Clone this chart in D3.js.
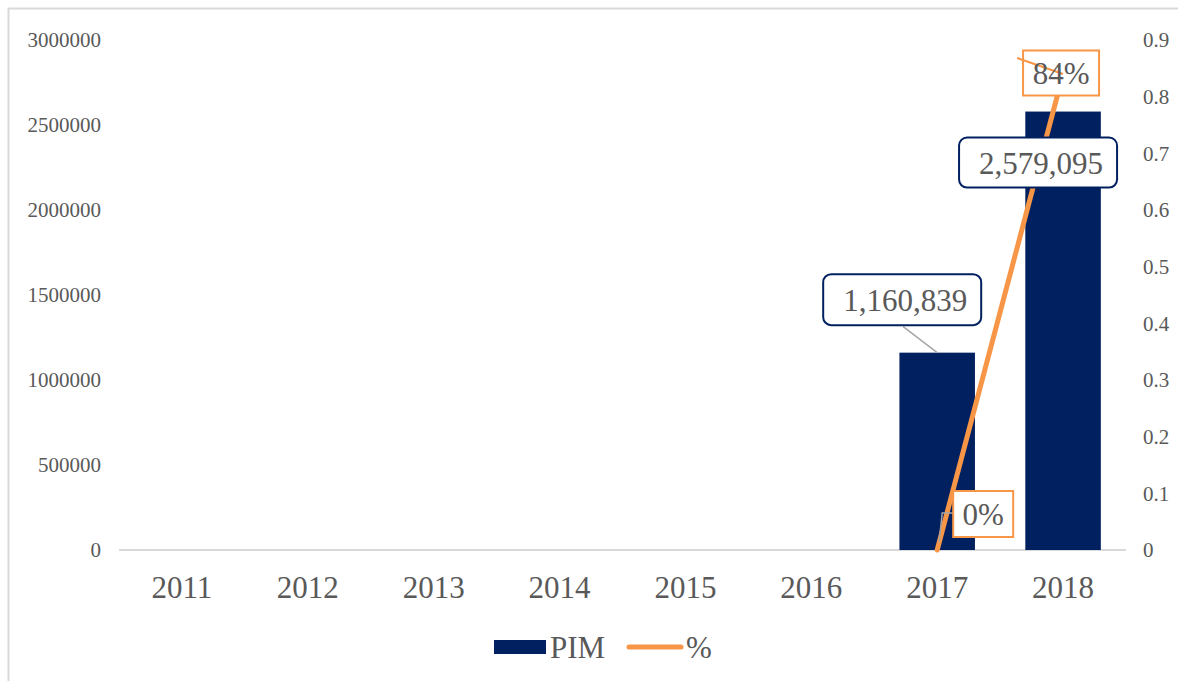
<!DOCTYPE html>
<html>
<head>
<meta charset="utf-8">
<script src="https://cdn.jsdelivr.net/npm/d3@7"></script>
<style>
  body { margin: 0; background: #fff; }
  svg { display: block; font-family: 'Liberation Serif', 'Times New Roman', serif; }
</style>
</head>
<body>
<svg></svg>
<script>
// data
let years = ['2011','2012','2013','2014','2015','2016','2017','2018']
let pim = [null, null, null, null, null, null, 1160839, 2579095]
let pct = [null, null, null, null, null, null, 0, 0.84]
let leftTicks = [0, 500000, 1000000, 1500000, 2000000, 2500000, 3000000]
let rightTicks = [0, 0.1, 0.2, 0.3, 0.4, 0.5, 0.6, 0.7, 0.8, 0.9]

let width = 1178,
    height = 681,
    navy = '#002060',
    orange = '#F79646',
    grey = '#595959'

let svg = d3.select('svg').attr('width', width).attr('height', height)

// chart border
svg.append('rect').attr('x', 8.5).attr('y', 8.5)
  .attr('width', width + 20).attr('height', height + 20)
  .attr('fill', 'none').attr('stroke', '#d9d9d9').attr('stroke-width', 2)

let x = d3.scaleBand().domain(years).range([119, 1126]).paddingInner(0.4).paddingOuter(0.2)
let yL = d3.scaleLinear().domain([0, 3000000]).range([550, 40])
let yR = d3.scaleLinear().domain([0, 0.9]).range([550, 40])
let cx = d => x(d) + x.bandwidth() / 2

// left axis
let la = svg.append('g').attr('transform', 'translate(101,0)')
  .call(d3.axisLeft(yL).tickValues(leftTicks).tickSize(0).tickPadding(0).tickFormat(d3.format('d')))
la.select('.domain').remove()
la.selectAll('text').attr('fill', grey).attr('font-size', 21).attr('font-family', 'Liberation Serif')

// right axis
let ra = svg.append('g').attr('transform', 'translate(1143,0)')
  .call(d3.axisRight(yR).tickValues(rightTicks).tickSize(0).tickPadding(0).tickFormat(d => d === 0 ? '0' : d3.format('.1f')(d)))
ra.select('.domain').remove()
ra.selectAll('text').attr('fill', grey).attr('font-size', 21).attr('font-family', 'Liberation Serif')

// category axis
svg.append('line').attr('x1', 119).attr('x2', 1126).attr('y1', 550).attr('y2', 550)
  .attr('stroke', '#d9d9d9').attr('stroke-width', 2)
let xa = svg.append('g').attr('transform', 'translate(0,550)')
  .call(d3.axisBottom(x).tickSize(0).tickPadding(0))
xa.select('.domain').remove()
xa.selectAll('text').attr('fill', grey).attr('font-size', 31).attr('font-family', 'Liberation Serif')
  .attr('dy', null).attr('y', 48)

// bars
let barData = years.map((y, i) => ({year: y, v: pim[i]})).filter(d => d.v != null)
svg.selectAll('.bar').data(barData).enter().append('rect')
  .attr('class', 'bar')
  .attr('x', d => x(d.year)).attr('width', x.bandwidth())
  .attr('y', d => yL(d.v)).attr('height', d => yL(0) - yL(d.v))
  .attr('fill', navy)

// line
let lineData = years.map((y, i) => ({year: y, v: pct[i]})).filter(d => d.v != null)
let line = d3.line().x(d => cx(d.year)).y(d => yR(d.v))
svg.append('path').datum(lineData).attr('d', line)
  .attr('fill', 'none').attr('stroke', orange).attr('stroke-width', 5).attr('stroke-linecap', 'round')

// data labels for bars
let fmt = d3.format(',')
let barLabels = [
  {dx: -35, dy: -53, w: 158, h: 51, lead: [[-34, -26], [0, 0]]},
  {dx: -25, dy: 51, w: 158, h: 50, lead: null}
]
barData.forEach((d, i) => {
  let o = barLabels[i], px = cx(d.year), py = yL(d.v)
  let bx = px + o.dx, by = py + o.dy
  if (o.lead) {
    svg.append('line').attr('x1', px + o.lead[0][0]).attr('y1', py + o.lead[0][1])
      .attr('x2', px).attr('y2', py).attr('stroke', '#a6a6a6').attr('stroke-width', 1.5)
  }
  svg.append('rect').attr('x', bx - o.w / 2).attr('y', by - o.h / 2)
    .attr('width', o.w).attr('height', o.h).attr('rx', 8)
    .attr('fill', '#fff').attr('stroke', navy).attr('stroke-width', 2)
  svg.append('text').attr('x', bx + 3).attr('y', by + 11)
    .attr('text-anchor', 'middle').attr('font-size', 31).attr('fill', grey)
    .text(fmt(d.v))
})

// data labels for line
let pctLabels = [
  {dx: 46, dy: -36, w: 60, h: 46},
  {dx: -2, dy: -1, w: 76, h: 45}
]
lineData.forEach((d, i) => {
  let o = pctLabels[i], px = cx(d.year), py = yR(d.v)
  let bx = px + o.dx, by = py + o.dy
  if (i === 0) {
    svg.append('polyline')
      .attr('points', [[bx - o.w / 2, by - 1], [px + 5, by - 1], [px + 2, py - 8]].join(' '))
      .attr('fill', 'none').attr('stroke', '#a6a6a6').attr('stroke-width', 1.5)
  }
  svg.append('rect').attr('x', bx - o.w / 2).attr('y', by - o.h / 2)
    .attr('width', o.w).attr('height', o.h)
    .attr('fill', '#fff').attr('stroke', orange).attr('stroke-width', 2)
  if (i === 1) {
    svg.append('line').attr('x1', px - 46).attr('y1', py - 16).attr('x2', px).attr('y2', py)
      .attr('stroke', orange).attr('stroke-width', 2)
  }
  svg.append('text').attr('x', bx).attr('y', by + 11)
    .attr('text-anchor', 'middle').attr('font-size', 31).attr('fill', grey)
    .text(d3.format('.0%')(d.v))
})

// legend
let lg = svg.append('g').attr('transform', 'translate(494,647)')
lg.append('rect').attr('x', 0).attr('y', -7).attr('width', 52).attr('height', 14).attr('fill', navy)
lg.append('text').attr('x', 56).attr('y', 11).attr('font-size', 31).attr('fill', grey).text('PIM')
lg.append('line').attr('x1', 135).attr('x2', 187).attr('y1', 0).attr('y2', 0)
  .attr('stroke', orange).attr('stroke-width', 5).attr('stroke-linecap', 'round')
lg.append('text').attr('x', 192).attr('y', 11).attr('font-size', 31).attr('fill', grey).text('%')
</script>
</body>
</html>
